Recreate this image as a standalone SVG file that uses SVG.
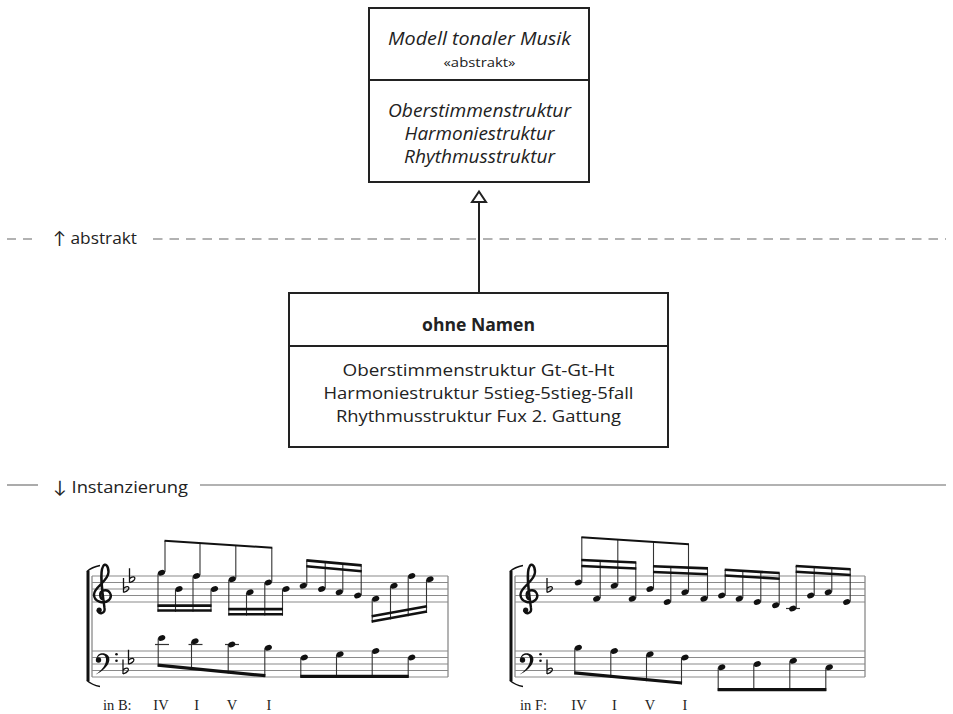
<svg xmlns="http://www.w3.org/2000/svg" xmlns:xlink="http://www.w3.org/1999/xlink" width="953" height="714" viewBox="0 0 953 714">
<style>
.box{fill:#fff;stroke:#222;stroke-width:2}
.t{font-family:"Open Sans",Lato,"DejaVu Sans",sans-serif;fill:#222;text-anchor:middle}
.it{font-style:italic}
.lbl{font-family:"Open Sans",Lato,"DejaVu Sans",sans-serif;fill:#222;font-size:17px}
.sep{stroke:#666;stroke-width:1.1;fill:none}
.staff{stroke:#8a8a8a;stroke-width:1.1}
.bar{stroke:#8a8a8a;stroke-width:1.3}
.stem{stroke:#333;stroke-width:1.1}
.beam{stroke:#111;stroke-width:2.6}
.beam8{stroke:#111;stroke-width:2}
.bbeam{stroke:#111;stroke-width:3.2}
.ledger{stroke:#333;stroke-width:1.2}
.rn{font-family:"Liberation Serif","Times New Roman",serif;font-size:14.5px;fill:#222}
.nh{fill:#111}
</style>
<defs>
<ellipse id="nh" class="nh" cx="0" cy="0" rx="3.7" ry="2.7" transform="rotate(-22)"/>
<g id="flat"><path d="M0 3.5 V-11 M0 -0.5 C3 -3.5 6.5 -2.5 5 0.3 C4 1.8 2 2.8 0 3.5" fill="none" stroke="#111" stroke-width="1.3"/></g>
<g id="gclef">
<path d="M1.2 4 C-3.5 4 -4.5 -3.5 0.5 -5 C6.5 -6.5 10 0 6 4.5 C1 9 -9 6.5 -9 -1 C-9 -9 5.5 -14 5.5 -23.5 C5.5 -30 2 -33 0 -29 C-3.5 -23 -1 -5 1.5 12.5 C2.5 18 -4.5 20 -5.5 14.5" fill="none" stroke="#111" stroke-width="2.4"/>
<circle cx="-3.8" cy="14.5" r="2.6" fill="#111"/>
</g>
<g id="fclef">
<circle cx="3.5" cy="2.5" r="2.7" fill="#111"/>
<path d="M1.5 1.5 C2 -5 9 -5.5 12.5 -2.5 C16.5 1 15 10 0 17.5 C11 10 12 3 10.5 -0.5 C9 -4 4 -3.5 1.5 1.5 Z" fill="#111"/>
<circle cx="21.5" cy="-3.2" r="1.3" fill="#111"/>
<circle cx="21.5" cy="3.2" r="1.3" fill="#111"/>
</g>
<g id="bracket">
<rect x="-1.5" y="571" width="3" height="110" fill="#111"/>
<path d="M-1 571.5 Q4 567 12 565.5 M-1 680.5 Q4 685 12 686.5" fill="none" stroke="#111" stroke-width="1.6"/>
</g>
</defs>

<!-- separators -->
<g id="separators">
<path class="sep" d="M7 239 H16 M23 239 H32"/>
<line class="sep" x1="153" y1="239" x2="946" y2="239" stroke-dasharray="9.5 7"/>
<text class="lbl" x="53" y="244" textLength="84" lengthAdjust="spacingAndGlyphs">↑ abstrakt</text>
<line class="sep" x1="7" y1="485" x2="38" y2="485"/>
<line class="sep" x1="200" y1="485" x2="946" y2="485"/>
<text class="lbl" x="53" y="493" textLength="135" lengthAdjust="spacingAndGlyphs">↓ Instanzierung</text>
</g>

<!-- connectors -->
<g id="connectors">
<line x1="479" y1="202" x2="479" y2="292" stroke="#222" stroke-width="2"/>
<polygon points="479,191.5 472,202 486,202" fill="#fff" stroke="#222" stroke-width="2"/>
</g>

<!-- nodes -->
<g id="node-modell">
<rect class="box" x="369" y="8" width="220" height="174"/>
<line x1="369" y1="80" x2="589" y2="80" stroke="#222" stroke-width="2"/>
<text class="t it" x="479.5" y="45" font-size="18" textLength="183" lengthAdjust="spacingAndGlyphs">Modell tonaler Musik</text>
<text class="t" x="479.5" y="67" font-size="13" textLength="72" lengthAdjust="spacingAndGlyphs">«abstrakt»</text>
<text class="t it" x="479.5" y="117" font-size="18" textLength="183" lengthAdjust="spacingAndGlyphs">Oberstimmenstruktur</text>
<text class="t it" x="479.5" y="140" font-size="18" textLength="150" lengthAdjust="spacingAndGlyphs">Harmoniestruktur</text>
<text class="t it" x="479.5" y="163" font-size="18" textLength="151" lengthAdjust="spacingAndGlyphs">Rhythmusstruktur</text>
</g>

<g id="node-ohne-namen">
<rect class="box" x="289" y="293" width="379" height="154"/>
<line x1="289" y1="346" x2="668" y2="346" stroke="#222" stroke-width="2"/>
<text class="t" x="478.5" y="331" font-size="17" font-weight="bold" textLength="113" lengthAdjust="spacingAndGlyphs">ohne Namen</text>
<text class="t" x="478.5" y="376" font-size="17" textLength="272" lengthAdjust="spacingAndGlyphs">Oberstimmenstruktur Gt-Gt-Ht</text>
<text class="t" x="478.5" y="399" font-size="17" textLength="310" lengthAdjust="spacingAndGlyphs">Harmoniestruktur 5stieg-5stieg-5fall</text>
<text class="t" x="478.5" y="422" font-size="17" textLength="285" lengthAdjust="spacingAndGlyphs">Rhythmusstruktur Fux 2. Gattung</text>
</g>

<!-- left music example (in B) -->
<g id="score-b">
<g class="staff">
<line x1="92" y1="576" x2="448" y2="576"/><line x1="92" y1="582.5" x2="448" y2="582.5"/><line x1="92" y1="589" x2="448" y2="589"/><line x1="92" y1="595.5" x2="448" y2="595.5"/><line x1="92" y1="602" x2="448" y2="602"/>
<line x1="92" y1="651" x2="448" y2="651"/><line x1="92" y1="657.5" x2="448" y2="657.5"/><line x1="92" y1="664" x2="448" y2="664"/><line x1="92" y1="670.5" x2="448" y2="670.5"/><line x1="92" y1="677" x2="448" y2="677"/>
</g>
<line class="bar" x1="92" y1="576" x2="92" y2="677"/>
<line class="bar" x1="448" y1="576" x2="448" y2="677"/>
<use xlink:href="#bracket" x="88" y="0"/>
<use xlink:href="#gclef" x="103" y="595.5"/>
<use xlink:href="#fclef" x="95" y="657.5"/>
<use xlink:href="#flat" x="123.5" y="589"/>
<use xlink:href="#flat" x="129.5" y="579.25"/>
<use xlink:href="#flat" x="123" y="670.5"/>
<use xlink:href="#flat" x="128.5" y="660.75"/>

<!-- treble stems -->
<g class="stem">
<line x1="165" y1="572" x2="165" y2="540.7"/>
<line x1="200" y1="575.3" x2="200" y2="543"/>
<line x1="235.8" y1="578.5" x2="235.8" y2="545.3"/>
<line x1="271.8" y1="581.8" x2="271.8" y2="547.7"/>
<line x1="158" y1="573.5" x2="158" y2="611.8"/>
<line x1="175.5" y1="589.5" x2="175.5" y2="611.8"/>
<line x1="193" y1="576.5" x2="193" y2="611.8"/>
<line x1="211" y1="589.5" x2="211" y2="611.8"/>
<line x1="228.8" y1="579.8" x2="228.8" y2="615.6"/>
<line x1="246.5" y1="592.8" x2="246.5" y2="615.6"/>
<line x1="264.8" y1="583" x2="264.8" y2="615.6"/>
<line x1="282.5" y1="589.5" x2="282.5" y2="615.6"/>
<line x1="306.8" y1="585.2" x2="306.8" y2="560.4"/>
<line x1="325.2" y1="588.5" x2="325.2" y2="562.1"/>
<line x1="342.8" y1="591.7" x2="342.8" y2="563.7"/>
<line x1="361.2" y1="595" x2="361.2" y2="565.4"/>
<line x1="372.2" y1="599.3" x2="372.2" y2="622.8"/>
<line x1="390.5" y1="586.3" x2="390.5" y2="619.4"/>
<line x1="408.2" y1="576.5" x2="408.2" y2="616.2"/>
<line x1="426.5" y1="579.8" x2="426.5" y2="612.8"/>
</g>
<line class="beam8" x1="164.5" y1="540.7" x2="272.3" y2="547.7"/>
<line class="beam" x1="157.5" y1="605.6" x2="211.5" y2="605.6"/>
<line class="beam" x1="157.5" y1="610.5" x2="211.5" y2="610.5"/>
<line class="beam" x1="228.3" y1="609.1" x2="283" y2="609.1"/>
<line class="beam" x1="228.3" y1="614.3" x2="283" y2="614.3"/>
<line class="beam" x1="306.3" y1="560.4" x2="361.7" y2="565.4"/>
<line class="beam" x1="306.3" y1="566.2" x2="361.7" y2="571.2"/>
<line class="beam" x1="371.7" y1="616.3" x2="427" y2="606.3"/>
<line class="beam" x1="371.7" y1="621.5" x2="427" y2="611.5"/>
<!-- treble heads -->
<use xlink:href="#nh" x="161.5" y="572.75"/>
<use xlink:href="#nh" x="179" y="589"/>
<use xlink:href="#nh" x="196.5" y="576"/>
<use xlink:href="#nh" x="214.5" y="589"/>
<use xlink:href="#nh" x="232.3" y="579.25"/>
<use xlink:href="#nh" x="250" y="592.25"/>
<use xlink:href="#nh" x="268.3" y="582.5"/>
<use xlink:href="#nh" x="286" y="589"/>
<use xlink:href="#nh" x="303.3" y="585.75"/>
<use xlink:href="#nh" x="321.7" y="589"/>
<use xlink:href="#nh" x="339.3" y="592.25"/>
<use xlink:href="#nh" x="357.7" y="595.5"/>
<use xlink:href="#nh" x="375.7" y="598.75"/>
<use xlink:href="#nh" x="394" y="585.75"/>
<use xlink:href="#nh" x="411.7" y="576"/>
<use xlink:href="#nh" x="430" y="579.25"/>

<!-- bass -->
<g class="ledger">
<line x1="155" y1="644.5" x2="169" y2="644.5"/>
<line x1="188.5" y1="644.5" x2="202.5" y2="644.5"/>
<line x1="225" y1="644.5" x2="239" y2="644.5"/>
</g>
<g class="stem">
<line x1="158.2" y1="638.5" x2="158.2" y2="666.5"/>
<line x1="191.5" y1="641.8" x2="191.5" y2="669.8"/>
<line x1="228.2" y1="645" x2="228.2" y2="673.4"/>
<line x1="264.8" y1="648.3" x2="264.8" y2="677"/>
<line x1="300.8" y1="658" x2="300.8" y2="677.5"/>
<line x1="336.5" y1="654.8" x2="336.5" y2="677.5"/>
<line x1="372.2" y1="651.5" x2="372.2" y2="677.5"/>
<line x1="408.2" y1="658" x2="408.2" y2="677.5"/>
</g>
<line class="bbeam" x1="157.7" y1="665.2" x2="265.3" y2="675.7"/>
<line class="bbeam" x1="300.3" y1="676.3" x2="408.7" y2="676.3"/>
<use xlink:href="#nh" x="161.7" y="638"/>
<use xlink:href="#nh" x="195" y="641.25"/>
<use xlink:href="#nh" x="231.7" y="644.5"/>
<use xlink:href="#nh" x="268.3" y="647.75"/>
<use xlink:href="#nh" x="304.3" y="657.5"/>
<use xlink:href="#nh" x="340" y="654.25"/>
<use xlink:href="#nh" x="375.7" y="651"/>
<use xlink:href="#nh" x="411.7" y="657.5"/>

<text class="rn" x="103" y="710">in B:</text>
<text class="rn" x="161" y="710" text-anchor="middle">IV</text>
<text class="rn" x="196.7" y="710" text-anchor="middle">I</text>
<text class="rn" x="232" y="710" text-anchor="middle">V</text>
<text class="rn" x="269" y="710" text-anchor="middle">I</text>
</g>

<!-- right music example (in F) -->
<g id="score-f">
<g class="staff">
<line x1="515" y1="576" x2="865" y2="576"/><line x1="515" y1="582.5" x2="865" y2="582.5"/><line x1="515" y1="589" x2="865" y2="589"/><line x1="515" y1="595.5" x2="865" y2="595.5"/><line x1="515" y1="602" x2="865" y2="602"/>
<line x1="515" y1="651" x2="865" y2="651"/><line x1="515" y1="657.5" x2="865" y2="657.5"/><line x1="515" y1="664" x2="865" y2="664"/><line x1="515" y1="670.5" x2="865" y2="670.5"/><line x1="515" y1="677" x2="865" y2="677"/>
</g>
<line class="bar" x1="515" y1="576" x2="515" y2="677"/>
<line class="bar" x1="865" y1="576" x2="865" y2="677"/>
<use xlink:href="#bracket" x="511" y="0"/>
<use xlink:href="#gclef" x="529.5" y="595.5"/>
<use xlink:href="#fclef" x="519" y="657.5"/>
<use xlink:href="#flat" x="547" y="589"/>
<use xlink:href="#flat" x="547" y="670.5"/>

<g class="ledger"><line x1="786" y1="608.5" x2="800" y2="608.5"/></g>
<g class="stem">
<line x1="581.8" y1="582" x2="581.8" y2="537.3"/>
<line x1="600.2" y1="598.3" x2="600.2" y2="560.9"/>
<line x1="617.8" y1="585.2" x2="617.8" y2="539.6"/>
<line x1="635.8" y1="598.3" x2="635.8" y2="562.5"/>
<line x1="653.5" y1="588.5" x2="653.5" y2="541.9"/>
<line x1="670.8" y1="601.5" x2="670.8" y2="566.9"/>
<line x1="688.5" y1="591.7" x2="688.5" y2="544.2"/>
<line x1="707.5" y1="598.3" x2="707.5" y2="568.4"/>
<line x1="725.2" y1="595" x2="725.2" y2="569.8"/>
<line x1="742.8" y1="598.3" x2="742.8" y2="570.8"/>
<line x1="760.8" y1="601.5" x2="760.8" y2="571.9"/>
<line x1="779.2" y1="604.8" x2="779.2" y2="573"/>
<line x1="796.2" y1="608" x2="796.2" y2="566"/>
<line x1="814.2" y1="595" x2="814.2" y2="567.1"/>
<line x1="831.8" y1="591.7" x2="831.8" y2="568.1"/>
<line x1="850.2" y1="601.5" x2="850.2" y2="569.2"/>
</g>
<line class="beam8" x1="581.3" y1="537.3" x2="689" y2="544.2"/>
<line class="beam" x1="581.3" y1="560" x2="636.3" y2="562.5"/>
<line class="beam" x1="581.3" y1="566" x2="636.3" y2="568.5"/>
<line class="beam" x1="653" y1="566.2" x2="708" y2="568.4"/>
<line class="beam" x1="653" y1="572" x2="708" y2="574.2"/>
<line class="beam" x1="724.7" y1="569.8" x2="779.7" y2="573"/>
<line class="beam" x1="724.7" y1="575.5" x2="779.7" y2="578.7"/>
<line class="beam" x1="795.7" y1="566" x2="850.7" y2="569.2"/>
<line class="beam" x1="795.7" y1="571.7" x2="850.7" y2="575"/>
<use xlink:href="#nh" x="578.3" y="582.5"/>
<use xlink:href="#nh" x="596.7" y="598.75"/>
<use xlink:href="#nh" x="614.3" y="585.75"/>
<use xlink:href="#nh" x="632.3" y="598.75"/>
<use xlink:href="#nh" x="650" y="589"/>
<use xlink:href="#nh" x="667.3" y="602"/>
<use xlink:href="#nh" x="685" y="592.25"/>
<use xlink:href="#nh" x="704" y="598.75"/>
<use xlink:href="#nh" x="721.7" y="595.5"/>
<use xlink:href="#nh" x="739.3" y="598.75"/>
<use xlink:href="#nh" x="757.3" y="602"/>
<use xlink:href="#nh" x="775.7" y="605.25"/>
<use xlink:href="#nh" x="792.7" y="608.5"/>
<use xlink:href="#nh" x="810.7" y="595.5"/>
<use xlink:href="#nh" x="828.3" y="592.25"/>
<use xlink:href="#nh" x="846.7" y="602"/>

<g class="stem">
<line x1="574.8" y1="648.3" x2="574.8" y2="674.3"/>
<line x1="610.8" y1="651.5" x2="610.8" y2="677.7"/>
<line x1="646.5" y1="654.8" x2="646.5" y2="681.2"/>
<line x1="681.5" y1="658" x2="681.5" y2="684.5"/>
<line x1="718.2" y1="667.8" x2="718.2" y2="691"/>
<line x1="753.8" y1="664.5" x2="753.8" y2="691"/>
<line x1="789.8" y1="661.3" x2="789.8" y2="691"/>
<line x1="825.8" y1="667.8" x2="825.8" y2="691"/>
</g>
<line class="bbeam" x1="574.3" y1="672.8" x2="682" y2="683"/>
<line class="bbeam" x1="717.7" y1="689.7" x2="826.3" y2="689.7"/>
<use xlink:href="#nh" x="578.3" y="647.75"/>
<use xlink:href="#nh" x="614.3" y="651"/>
<use xlink:href="#nh" x="650" y="654.25"/>
<use xlink:href="#nh" x="685" y="657.5"/>
<use xlink:href="#nh" x="721.7" y="667.25"/>
<use xlink:href="#nh" x="757.3" y="664"/>
<use xlink:href="#nh" x="793.3" y="660.75"/>
<use xlink:href="#nh" x="829.3" y="667.25"/>

<text class="rn" x="520" y="710">in F:</text>
<text class="rn" x="579" y="710" text-anchor="middle">IV</text>
<text class="rn" x="614.3" y="710" text-anchor="middle">I</text>
<text class="rn" x="650" y="710" text-anchor="middle">V</text>
<text class="rn" x="685" y="710" text-anchor="middle">I</text>
</g>
</svg>
